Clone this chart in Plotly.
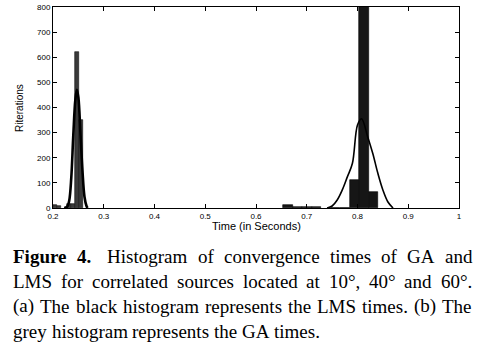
import plotly.graph_objects as go

# ---------------- data ----------------
# GA (grey histogram)
ga_centers = [0.204, 0.212, 0.231, 0.239, 0.247, 0.255]
ga_counts = [10, 6, 15, 15, 620, 350]
ga_width = 0.008

# LMS (black histogram)
lms_centers = [0.663, 0.6815, 0.7005, 0.719, 0.7565, 0.775, 0.794, 0.8125, 0.831]
lms_counts = [10, 4, 3, 3, 2, 2, 111, 850, 65]
lms_width = 0.0185

# fitted curves
ga_fit_x = [0.222, 0.228, 0.232, 0.236, 0.240, 0.244, 0.247, 0.250, 0.254, 0.258, 0.262, 0.266, 0.268]
ga_fit_y = [0, 5, 30, 120, 290, 430, 470, 440, 300, 150, 45, 8, 0]

lms_fit_x = [0.740, 0.750, 0.760, 0.770, 0.780, 0.790, 0.800, 0.808, 0.820, 0.830, 0.840, 0.850, 0.860, 0.870]
lms_fit_y = [0, 8, 32, 72, 124, 178, 330, 355, 284, 218, 139, 72, 24, 0]

x_ticks = [0.2, 0.3, 0.4, 0.5, 0.6, 0.7, 0.8, 0.9, 1.0]
x_tick_labels = ["0.2", "0.3", "0.4", "0.5", "0.6", "0.7", "0.8", "0.9", "1"]
y_ticks = [0, 100, 200, 300, 400, 500, 600, 700, 800]

x_title = "Time (in Seconds)"
y_title = "Riterations"

caption_lines = [
    [("Figure", True), ("4.", True), ("Histogram", False), ("of", False), ("convergence", False),
     ("times", False), ("of", False), ("GA", False), ("and", False)],
    [("LMS", False), ("for", False), ("correlated", False), ("sources", False), ("located", False),
     ("at", False), ("10°,", False), ("40°", False), ("and", False), ("60°.", False)],
    [("(a)", False), ("The", False), ("black", False), ("histogram", False), ("represents", False),
     ("the", False), ("LMS", False), ("times.", False), ("(b)", False), ("The", False)],
    [("grey", False), ("histogram", False), ("represents", False), ("the", False), ("GA", False),
     ("times.", False)],
]

# ---------------- figure ----------------
W, H = 479, 347
L, R, T, B = 53, 20, 7, 139
PW, PH = W - L - R, H - T - B


def px_to_paper(px, py):
    return (px - L) / PW, (T + PH - py) / PH


fig = go.Figure()
fig.add_trace(go.Bar(x=ga_centers, y=ga_counts, width=[ga_width] * len(ga_centers),
                     marker=dict(color="#3a3a3a", line=dict(color="#111111", width=0.6)),
                     showlegend=False))
fig.add_trace(go.Bar(x=lms_centers, y=lms_counts, width=[lms_width] * len(lms_centers),
                     marker=dict(color="#161616", line=dict(color="#000000", width=0.6)),
                     showlegend=False))
fig.add_trace(go.Scatter(x=ga_fit_x, y=ga_fit_y, mode="lines", line=dict(color="black", width=2.6, shape="spline"),
                         showlegend=False))
fig.add_trace(go.Scatter(x=lms_fit_x, y=lms_fit_y, mode="lines", line=dict(color="black", width=1.6, shape="spline"),
                         showlegend=False))

sans = "Liberation Sans, Arial, sans-serif"
axis_font = dict(family=sans, size=8, color="black")
fig.update_layout(
    width=W, height=H,
    margin=dict(l=L, r=R, t=T, b=B, autoexpand=False),
    paper_bgcolor="white", plot_bgcolor="white",
    barmode="overlay", bargap=0,
    xaxis=dict(range=[0.2, 1.0], tickvals=x_ticks, ticktext=x_tick_labels, ticks="inside",
               ticklen=4, tickcolor="black", showline=True, linecolor="black", linewidth=1,
               mirror="ticks", showgrid=False, zeroline=False, tickfont=axis_font, automargin=False),
    yaxis=dict(range=[0, 800], tickvals=y_ticks, ticks="inside", ticklen=4, tickcolor="black",
               showline=True, linecolor="black", linewidth=1, mirror="ticks", showgrid=False,
               zeroline=False, tickfont=axis_font, automargin=False),
)

# axis titles
ax, ay = px_to_paper(256, 226)
fig.add_annotation(x=ax, y=ay, xref="paper", yref="paper", text=x_title, showarrow=False,
                   xanchor="center", yanchor="middle", borderpad=0,
                   font=dict(family=sans, size=11, color="black"))
ax, ay = px_to_paper(19, 108)
fig.add_annotation(x=ax, y=ay, xref="paper", yref="paper", text=y_title, showarrow=False,
                   textangle=-90, xanchor="center", yanchor="middle", borderpad=0,
                   font=dict(family=sans, size=10, color="black"))

# ---------------- justified caption ----------------
roman = {" ": 250, "(": 333, ")": 333, ",": 250, ".": 250, "0": 500, "1": 500, "4": 500, "6": 500,
         "°": 400, "A": 722, "C": 667, "F": 556, "G": 722, "H": 722, "L": 611, "M": 889, "S": 556,
         "T": 611, "a": 444, "b": 500, "c": 444, "d": 500, "e": 444, "f": 333, "g": 500, "h": 500,
         "i": 278, "k": 500, "l": 278, "m": 778, "n": 500, "o": 500, "p": 500, "r": 333, "s": 389,
         "t": 278, "u": 500, "v": 500, "y": 500}
bold = {"F": 611, "i": 278, "g": 500, "u": 556, "r": 444, "e": 444, "4": 500, ".": 250}

FS = 19
X0, X1 = 12, 471
baselines = [262, 287, 312, 337]


def wwidth(word, b):
    tab = bold if b else roman
    return sum(tab.get(c, 500) for c in word) * FS / 1000.0


for li, words in enumerate(caption_lines):
    widths = [wwidth(w, b) for w, b in words]
    n = len(words)
    extra = [0.0] * n
    if li == 0:
        extra[2] = 6.0
    last = li == len(caption_lines) - 1
    if last:
        gap = 250 * FS / 1000.0
    else:
        gap = (X1 - X0 - sum(widths) - sum(extra)) / (n - 1)
    x = X0
    for i, (w, b) in enumerate(words):
        x += extra[i]
        ax, ay = px_to_paper(x, baselines[li] - 6)
        fig.add_annotation(
            x=ax, y=ay, xref="paper", yref="paper",
            text=("<b>%s</b>" % w) if b else w, showarrow=False,
            xanchor="left", yanchor="middle", borderpad=0,
            font=dict(family="Liberation Serif, Times New Roman, serif", size=FS, color="black"),
        )
        x += widths[i] + gap

fig.write_html("out.html", config={"displayModeBar": False},
               post_script="document.body.style.margin='0';document.body.style.overflow='hidden';")
